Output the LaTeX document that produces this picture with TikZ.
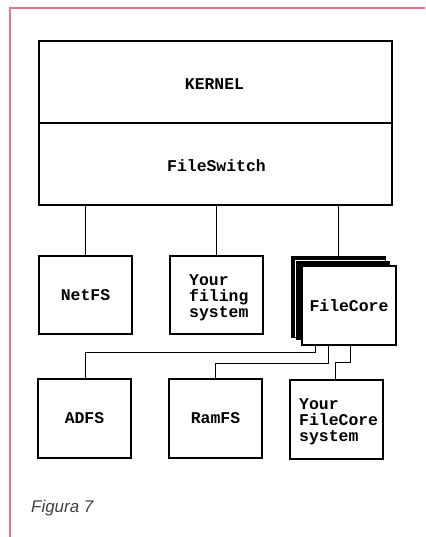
\documentclass[tikz,border=0pt]{standalone}
\usepackage{fontspec}
\setmainfont{Liberation Sans}
\newfontfamily\boxfont{Liberation Mono}
\definecolor{framepink}{HTML}{E07890}
\begin{document}
\begin{tikzpicture}[x=1bp,y=-1bp,
  box/.style={draw=black,line width=1.2bp,fill=white},
  lbl/.style={font=\boxfont\bfseries\fontsize{16.5}{16.5}\selectfont,inner sep=0pt},
  lbltwo/.style={font=\boxfont\bfseries\fontsize{16.5}{16}\selectfont,inner sep=0pt,align=left},
  conn/.style={draw=black,line width=1bp}]
\useasboundingbox (0,0) rectangle (425,537);
\fill[white] (0,0) rectangle (425,537);
% pink frame
\draw[framepink,line width=1.6bp] (10,537) -- (10,8) -- (425,8);
% top box
\draw[box] (39,41) rectangle (392,205);
\draw[conn,line width=1.2bp] (39,123) -- (392,123);
\node[lbl] (kernel) at (214.5,84) {KERNEL};
\node[lbl] (fileswitch) at (216.5,166) {FileSwitch};
\coordinate (fsbot1) at (85,205);
\coordinate (fsbot2) at (216,205);
\coordinate (fsbot3) at (338,205);
% middle row
\node[box,minimum width=93bp,minimum height=78bp,inner sep=0pt] (netfs) at (85.5,295) {};
\node[lbl] at (netfs.center) {NetFS};
\node[box,minimum width=93bp,minimum height=78bp,inner sep=0pt] (yourfs) at (216.5,295) {};
\node[lbltwo,anchor=west] at (189,298) {Your\\filing\\system};
% FileCore stack
\fill[black] (291,256) rectangle (385,337);
\draw[white,line width=0.8bp,fill=black] (295,260) rectangle (390,340);
\draw[black,line width=1bp] (291,256) rectangle (385,337);
\node[box,minimum width=94bp,minimum height=79bp,inner sep=0pt] (filecore) at (349,305.5) {};
\node[lbl] at (filecore.center) {FileCore};
\coordinate (fcback) at (338,256);
% bottom row
\node[box,minimum width=93bp,minimum height=79bp,inner sep=0pt] (adfs) at (84.5,418.5) {};
\node[lbl] at (adfs.center) {ADFS};
\node[box,minimum width=93bp,minimum height=79bp,inner sep=0pt] (ramfs) at (215.5,418.5) {};
\node[lbl] at (ramfs.center) {RamFS};
\node[box,minimum width=93bp,minimum height=79bp,inner sep=0pt] (yourfc) at (336.5,419.5) {};
\node[lbltwo,anchor=west] at (299,422) {Your\\FileCore\\system};
% connectors
\draw[conn] (fsbot1) -- (netfs.north -| fsbot1);
\draw[conn] (fsbot2) -- (yourfs.north -| fsbot2);
\draw[conn] (fsbot3) -- (fcback);
\draw[conn] (filecore.south -| 315.5,0) -- (315.5,352) -| (adfs.north -| 85,0);
\draw[conn] (filecore.south -| 328.5,0) -- (328.5,363) -| (ramfs.north -| 215,0);
\draw[conn] (filecore.south -| 350.5,0) -- (350.5,362) -| (yourfc.north -| 335.5,0);
% caption
\node[font=\itshape\fontsize{17}{17}\selectfont,text=black!75,anchor=west,inner sep=0pt] (caption) at (31,508) {Figura 7};
\end{tikzpicture}
\end{document}
